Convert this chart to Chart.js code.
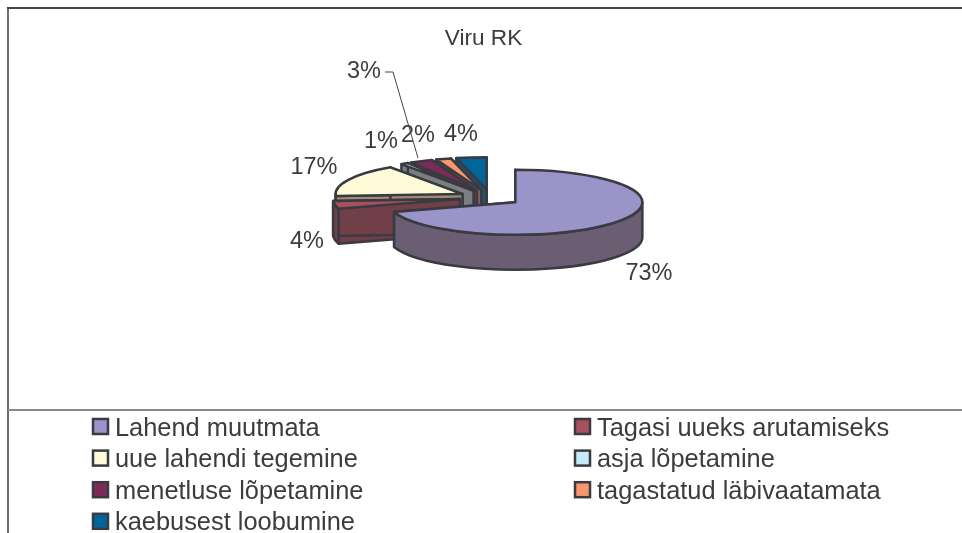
<!DOCTYPE html>
<html><head><meta charset="utf-8">
<style>html,body{margin:0;padding:0;background:#fff}canvas{display:block}</style>
<script src="https://cdn.jsdelivr.net/npm/chart.js@4"></script>
</head><body>
<div style="width:962px;height:533px;position:relative"><canvas id="c" width="962" height="533"></canvas></div>
<script>
const categories = ["Lahend muutmata","Tagasi uueks arutamiseks","uue lahendi tegemine","asja lõpetamine","menetluse lõpetamine","tagastatud läbivaatamata","kaebusest loobumine"];
const values = [73,4,17,1,3,2,4];
const valueLabels = ["73%","4%","17%","1%","3%","2%","4%"];
const topColors = ["#9b94c8","#a8505f","#fffbd9","#c6eafa","#7e2a58","#f7976f","#006699"];
const sideColors = ["#6b5e72","#703f48","#a08c74","#7b7f80","#6b3a48","#8a6458","#1e5570"];
const titleText = "Viru RK";

const INK = "#3a3a42", TEXT = "#3c3c3c", FONT = '"Liberation Sans", Arial, sans-serif';
const K = 0.256, DEPTH = 35, EXPLODE = 31, SHIFT_X = 6.9;
// text anchors for the data labels (centre x, centre y)
const labelPos = [[649,274],[307,242],[314,168],[381,142],[364,72],[418,136],[461,135]];

const pie3d = {
  id:'pie3d',
  beforeDraw(chart){
    const {ctx}=chart;
    ctx.save();
    ctx.lineWidth=2;
    ctx.strokeStyle="#707070";
    ctx.beginPath();ctx.moveTo(8,533);ctx.lineTo(8,8);ctx.stroke();
    ctx.strokeStyle="#8a8a8a";
    ctx.beginPath();ctx.moveTo(8,410);ctx.lineTo(962,410);ctx.stroke();
    ctx.strokeStyle="#444444";
    ctx.beginPath();ctx.moveTo(7,8);ctx.lineTo(962,8);ctx.stroke();
    ctx.restore();
  },
  beforeDatasetDraw(chart,args){
    const {ctx}=chart;
    const arcs=chart.getDatasetMeta(args.index).data;
    ctx.save();
    ctx.lineJoin='round';
    ctx.lineWidth=2.5;
    ctx.strokeStyle=INK;
    for(let i=arcs.length-1;i>=0;i--) {
      const a=arcs[i], p=a.getProps(['x','y','startAngle','endAngle','outerRadius']);
      const mid=(p.startAngle+p.endAngle)/2;
      const cx=p.x+SHIFT_X+Math.cos(mid)*EXPLODE, cy=p.y+Math.sin(mid)*EXPLODE*K;
      const r=p.outerRadius, ry=r*K;
      const pt=t=>[cx+r*Math.cos(t),cy+ry*Math.sin(t)];
      ctx.fillStyle=sideColors[i];
      // radial cut faces
      for(const t of [p.startAngle,p.endAngle]){
        const e=pt(t);
        ctx.beginPath();
        ctx.moveTo(cx,cy);ctx.lineTo(e[0],e[1]);ctx.lineTo(e[0],e[1]+DEPTH);ctx.lineTo(cx,cy+DEPTH);ctx.closePath();
        ctx.fill();ctx.stroke();
      }
      // outer rim, front half only
      const s=Math.max(p.startAngle,0), en=Math.min(p.endAngle,Math.PI);
      if(en>s){
        ctx.beginPath();
        ctx.ellipse(cx,cy,r,ry,0,s,en);
        ctx.ellipse(cx,cy+DEPTH,r,ry,0,en,s,true);
        ctx.closePath();ctx.fill();ctx.stroke();
      }
      // top face
      ctx.fillStyle=topColors[i];
      ctx.beginPath();ctx.moveTo(cx,cy);
      ctx.ellipse(cx,cy,r,ry,0,p.startAngle,p.endAngle);
      ctx.closePath();ctx.fill();ctx.stroke();
    }
    ctx.restore();
    return false;
  },
  afterDatasetsDraw(chart){
    const {ctx}=chart;
    ctx.save();
    ctx.fillStyle=TEXT;
    ctx.font='23.5px '+FONT;
    ctx.textAlign='center';ctx.textBaseline='middle';
    valueLabels.forEach((t,i)=>ctx.fillText(t,labelPos[i][0],labelPos[i][1]));
    // leader line for the small slice
    ctx.strokeStyle="#444";ctx.lineWidth=1;
    ctx.beginPath();ctx.moveTo(385,72);ctx.lineTo(393,72);ctx.lineTo(418,158);ctx.stroke();
    // legend
    ctx.textAlign='left';
    ctx.font='25.4px '+FONT;
    categories.forEach((t,i)=>{
      const col=i%2, row=Math.floor(i/2);
      const x=col?574:92, y=427+row*31.6;
      ctx.fillStyle=topColors[i];ctx.strokeStyle=INK;ctx.lineWidth=2.5;
      ctx.fillRect(x+1,y-8,15,15);ctx.strokeRect(x+1,y-8,15,15);
      ctx.fillStyle=TEXT;
      ctx.fillText(t,x+23,y+1.5);
    });
    ctx.restore();
  }
};

new Chart(document.getElementById('c'),{
  type:'pie',
  data:{labels:categories,datasets:[{data:values,backgroundColor:topColors,borderColor:INK,borderWidth:0}]},
  plugins:[pie3d],
  options:{
    responsive:false,animation:false,events:[],
    radius:127,
    layout:{padding:{left:5,right:0,top:0,bottom:190}},
    plugins:{
      legend:{display:false},tooltip:{enabled:false},
      title:{display:true,text:titleText,color:TEXT,font:{family:FONT,size:22.6,weight:'normal'},padding:{top:25,bottom:0}}
    }
  }
});
</script>
</body></html>
